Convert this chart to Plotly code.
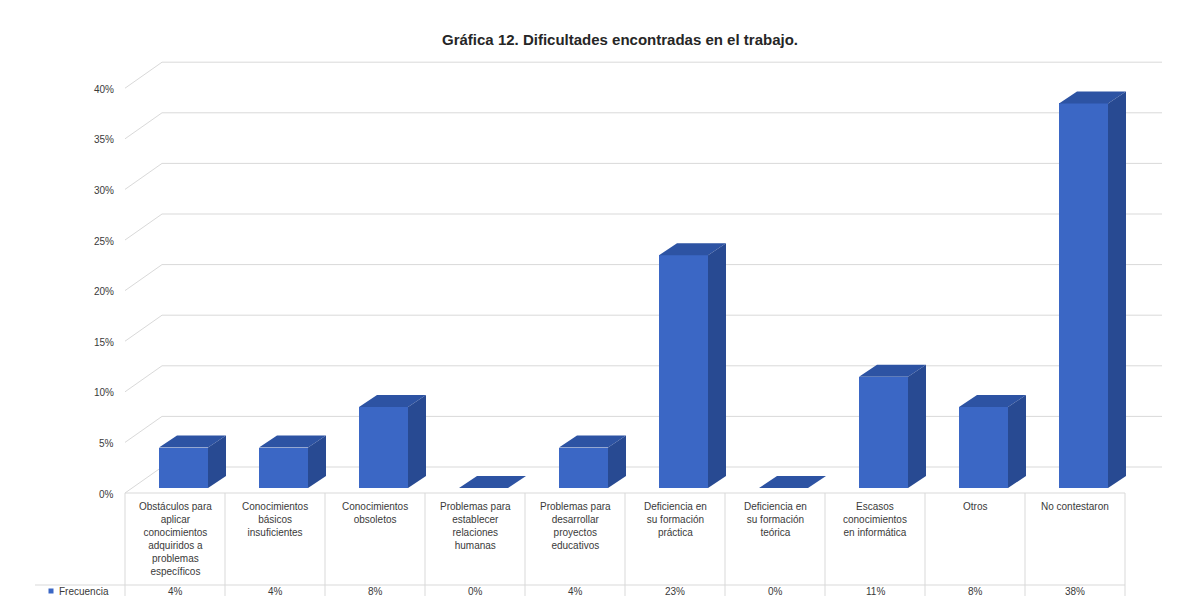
import plotly.graph_objects as go

# ---------------- data ----------------
categories = [
    "Obstáculos para<br>aplicar<br>conocimientos<br>adquiridos a<br>problemas<br>específicos",
    "Conocimientos<br>básicos<br>insuficientes",
    "Conocimientos<br>obsoletos",
    "Problemas para<br>establecer<br>relaciones<br>humanas",
    "Problemas para<br>desarrollar<br>proyectos<br>educativos",
    "Deficiencia en<br>su formación<br>práctica",
    "Deficiencia en<br>su formación<br>teórica",
    "Escasos<br>conocimientos<br>en informática",
    "Otros",
    "No contestaron",
]
values = [0.04, 0.04, 0.08, 0.0, 0.04, 0.23, 0.0, 0.11, 0.08, 0.38]
value_labels = ["4%", "4%", "8%", "0%", "4%", "23%", "0%", "11%", "8%", "38%"]
series_name = "Frecuencia"
y_ticks = [0.0, 0.05, 0.10, 0.15, 0.20, 0.25, 0.30, 0.35, 0.40]
y_tick_labels = ["0%", "5%", "10%", "15%", "20%", "25%", "30%", "35%", "40%"]
title_text = "Gráfica 12. Dificultades encontradas en el trabajo."

# ---------------- geometry / style ----------------
W, H = 1182, 596
X0_PX, PX_PER_X = 125, 100.0       # x=-0.5 sits at pixel 125
Y0_PX, PX_PER_Y = 493, 1012.0      # y=0 sits at pixel 493
x_range = [-0.5 - X0_PX / PX_PER_X, -0.5 + (W - X0_PX) / PX_PER_X]
y_range = [(Y0_PX - H) / PX_PER_Y, Y0_PX / PX_PER_Y]

WALL_DX, WALL_DY = 37 / PX_PER_X, 26 / PX_PER_Y        # back wall offset
BAR_SHIFT, BAR_W = 8.5 / PX_PER_X, 49 / PX_PER_X        # bar front face
BAR_BASE = 5 / PX_PER_Y
DEPTH_DX, DEPTH_DY = 18 / PX_PER_X, 12 / PX_PER_Y       # bar depth

FRONT_C, TOP_C, SIDE_C = "#3B67C5", "#2D53A3", "#284A92"
GRID_C = "#D9D9D9"
TEXT_C = "#3A3A3A"
FONT = "Arial, Liberation Sans, sans-serif"

n = len(values)
xs = list(range(n))

fig = go.Figure()

# ---- back wall gridlines + side-wall diagonals (below traces) ----
shapes = []
x_left, x_right = -0.5, n - 0.5
for v in y_ticks:
    shapes.append(dict(type="line", xref="x", yref="y", layer="below",
                       x0=x_left + WALL_DX, x1=x_right + WALL_DX,
                       y0=v + WALL_DY, y1=v + WALL_DY,
                       line=dict(color=GRID_C, width=1)))
    shapes.append(dict(type="line", xref="x", yref="y", layer="below",
                       x0=x_left, x1=x_left + WALL_DX,
                       y0=v, y1=v + WALL_DY,
                       line=dict(color=GRID_C, width=1)))

# ---- data table lines ----
row_sep_y = (Y0_PX - 585) / PX_PER_Y
legend_left = x_left - 90 / PX_PER_X
shapes.append(dict(type="line", xref="x", yref="y", layer="below",
                   x0=x_left, x1=x_right, y0=0, y1=0,
                   line=dict(color=GRID_C, width=1)))
shapes.append(dict(type="line", xref="x", yref="y", layer="below",
                   x0=legend_left, x1=x_right, y0=row_sep_y, y1=row_sep_y,
                   line=dict(color=GRID_C, width=1)))
for k in range(n + 1):
    shapes.append(dict(type="line", xref="x", yref="y", layer="below",
                       x0=x_left + k, x1=x_left + k, y0=0, y1=y_range[0],
                       line=dict(color=GRID_C, width=1)))

# ---- bar front faces ----
fig.add_trace(go.Bar(
    x=[x + BAR_SHIFT for x in xs], y=values, base=BAR_BASE, width=BAR_W,
    marker=dict(color=FRONT_C, line=dict(width=0)),
    name=series_name, showlegend=False, hoverinfo="skip",
))

# ---- bar top and side faces ----
tx, ty, sx, sy = [], [], [], []
for x, v in zip(xs, values):
    l = x + BAR_SHIFT - BAR_W / 2
    r = x + BAR_SHIFT + BAR_W / 2
    top = BAR_BASE + v
    tx += [l, r, r + DEPTH_DX, l + DEPTH_DX, l, None]
    ty += [top, top, top + DEPTH_DY, top + DEPTH_DY, top, None]
    if v > 0:
        sx += [r, r + DEPTH_DX, r + DEPTH_DX, r, r, None]
        sy += [BAR_BASE, BAR_BASE + DEPTH_DY, top + DEPTH_DY, top, BAR_BASE, None]

fig.add_trace(go.Scatter(x=tx, y=ty, mode="lines", fill="toself",
                         fillcolor=TOP_C, line=dict(width=0, color=TOP_C),
                         showlegend=False, hoverinfo="skip"))
fig.add_trace(go.Scatter(x=sx, y=sy, mode="lines", fill="toself",
                         fillcolor=SIDE_C, line=dict(width=0, color=SIDE_C),
                         showlegend=False, hoverinfo="skip"))

# ---- legend key in the data table ----
key_y = (Y0_PX - 591) / PX_PER_Y
fig.add_trace(go.Scatter(x=[x_left - 74 / PX_PER_X], y=[key_y], mode="markers",
                         marker=dict(symbol="square", size=5, color=FRONT_C),
                         showlegend=False, hoverinfo="skip"))

annotations = []
# y tick labels
for v, t in zip(y_ticks, y_tick_labels):
    annotations.append(dict(x=x_left, y=v, xref="x", yref="y", text=t,
                            showarrow=False, xanchor="right", yanchor="middle",
                            xshift=-9, yshift=-1,
                            font=dict(size=10, color=TEXT_C, family=FONT)))
# category labels
for x, c in zip(xs, categories):
    annotations.append(dict(x=x, y=(Y0_PX - 499) / PX_PER_Y, xref="x", yref="y",
                            text=c, showarrow=False, xanchor="center", yanchor="top",
                            align="center",
                            font=dict(size=10, color=TEXT_C, family=FONT)))
# value row
for x, t in zip(xs, value_labels):
    annotations.append(dict(x=x, y=key_y, xref="x", yref="y", text=t,
                            showarrow=False, xanchor="center", yanchor="middle",
                            font=dict(size=10, color=TEXT_C, family=FONT)))
annotations.append(dict(x=x_left - 68 / PX_PER_X, y=key_y, xref="x", yref="y",
                        text=series_name, showarrow=False, xanchor="left",
                        yanchor="middle", font=dict(size=10, color=TEXT_C, family=FONT)))

fig.update_layout(
    width=W, height=H,
    margin=dict(l=0, r=0, t=0, b=0),
    paper_bgcolor="white", plot_bgcolor="white",
    showlegend=False,
    title=dict(text=title_text, x=620 / W, y=(H - 40) / H, xanchor="center",
               yanchor="middle", font=dict(size=15, color="#262626", family=FONT,
                                           weight="bold")),
    xaxis=dict(range=x_range, visible=False, fixedrange=True),
    yaxis=dict(range=y_range, visible=False, fixedrange=True),
    shapes=shapes,
    annotations=annotations,
    bargap=0,
)

fig.write_html("out.html", include_plotlyjs=True,
               config={"displayModeBar": False, "staticPlot": True},
               post_script="document.body.style.margin='0';document.body.style.overflow='hidden';")
